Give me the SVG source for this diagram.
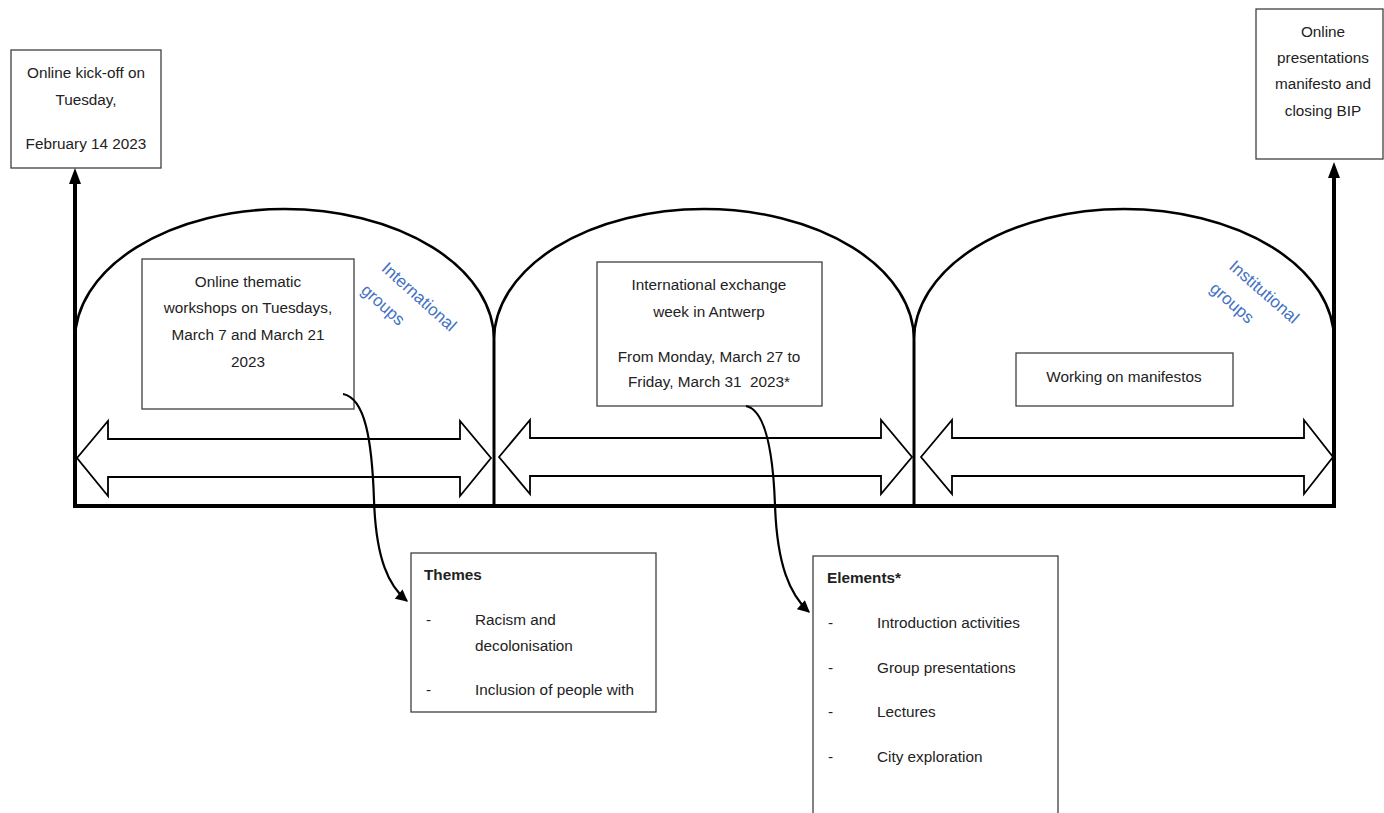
<svg xmlns="http://www.w3.org/2000/svg" width="1384" height="813" viewBox="0 0 1384 813">
<style>
.box{fill:#fff;stroke:#404040;stroke-width:1.3}
.t{font-family:"Liberation Sans",Arial,sans-serif;font-size:15.3px;fill:#222}
.c{text-anchor:middle}
.b{font-weight:bold}
.blue{font-family:"Liberation Sans",Arial,sans-serif;font-size:17px;fill:#4472C4;text-anchor:middle;dominant-baseline:central}
.arch{fill:none;stroke:#000;stroke-width:2.5}
.post{stroke:#000;stroke-width:3;fill:none}
.thick{stroke:#000;stroke-width:4;fill:none}
.blk{fill:#fff;stroke:#000;stroke-width:1.8;stroke-linejoin:miter}
.curve{fill:none;stroke:#000;stroke-width:2.2}
</style>
<defs>
<marker id="ah" viewBox="0 0 10 10" refX="9" refY="5" markerWidth="6" markerHeight="5.5" orient="auto" markerUnits="strokeWidth">
<path d="M0,0 L10,5 L0,10 z" fill="#000"/>
</marker>
</defs>
<rect width="1384" height="813" fill="#fff"/>

<g id="structure">
<path class="arch" d="M75,340 A209.5,131 0 0 1 494,340"/>
<path class="arch" d="M494,340 A210,131 0 0 1 914,340"/>
<path class="arch" d="M914,340 A210,131 0 0 1 1334,340"/>
<line class="post" x1="494" y1="340" x2="494" y2="506"/>
<line class="post" x1="914" y1="340" x2="914" y2="506"/>
<line class="thick" x1="73" y1="506" x2="1336" y2="506"/>
</g>

<g id="arrow1"><polygon class="blk" points="77,458 108,421 108,439 460,439 460,421 491,458 460,496 460,477 108,477 108,496"/></g>
<g id="arrow2"><polygon class="blk" points="499,457 530,420 530,438 881,438 881,420 912,457 881,494 881,476 530,476 530,494"/></g>
<g id="arrow3"><polygon class="blk" points="921,457 952,420 952,438 1304,438 1304,420 1333,457 1304,494 1304,476 952,476 952,494"/></g>

<g id="kickoff">
<rect class="box" x="11" y="50" width="150" height="118"/>
<text class="t c" x="86" y="78">Online kick-off on</text>
<text class="t c" x="86" y="105">Tuesday,</text>
<text class="t c" x="86" y="149">February 14 2023</text>
</g>

<g id="closing">
<rect class="box" x="1256" y="9" width="127" height="150"/>
<text class="t c" x="1323" y="37">Online</text>
<text class="t c" x="1323" y="63">presentations</text>
<text class="t c" x="1323" y="89">manifesto and</text>
<text class="t c" x="1323" y="116">closing BIP</text>
</g>

<g id="workshops">
<rect class="box" x="142" y="259" width="212" height="150"/>
<text class="t c" x="248" y="287">Online thematic</text>
<text class="t c" x="248" y="313">workshops on Tuesdays,</text>
<text class="t c" x="248" y="340">March 7 and March 21</text>
<text class="t c" x="248" y="367">2023</text>
</g>

<g id="exchange">
<rect class="box" x="597" y="262" width="225" height="144"/>
<text class="t c" x="709" y="290">International exchange</text>
<text class="t c" x="709" y="317">week in Antwerp</text>
<text class="t c" x="709" y="362">From Monday, March 27 to</text>
<text class="t c" x="709" y="387">Friday, March 31&#160; 2023*</text>
</g>

<g id="manifestos">
<rect class="box" x="1016" y="353" width="217" height="53"/>
<text class="t c" x="1124" y="382">Working on manifestos</text>
</g>

<g id="intl-label">
<text class="blue" transform="translate(419,297) rotate(42)">International</text>
<text class="blue" transform="translate(383,305) rotate(42)">groups</text>
</g>
<g id="inst-label">
<text class="blue" transform="translate(1264,292) rotate(41)">Institutional</text>
<text class="blue" transform="translate(1232,303) rotate(41)">groups</text>
</g>

<g id="themes">
<rect class="box" x="411" y="553" width="245" height="159"/>
<text class="t b" x="424" y="580">Themes</text>
<text class="t" x="426" y="625">-</text>
<text class="t" x="475" y="625">Racism and</text>
<text class="t" x="475" y="651">decolonisation</text>
<text class="t" x="426" y="695">-</text>
<text class="t" x="475" y="695">Inclusion of people with</text>
</g>

<g id="elements">
<rect class="box" x="813" y="556" width="245" height="270"/>
<text class="t b" x="827" y="583">Elements*</text>
<text class="t" x="828" y="628">-</text>
<text class="t" x="877" y="628">Introduction activities</text>
<text class="t" x="828" y="673">-</text>
<text class="t" x="877" y="673">Group presentations</text>
<text class="t" x="828" y="717">-</text>
<text class="t" x="877" y="717">Lectures</text>
<text class="t" x="828" y="762">-</text>
<text class="t" x="877" y="762">City exploration</text>
</g>

<g id="connectors">
<line class="thick" x1="75" y1="506" x2="75" y2="182"/>
<polygon points="75,168 69,184 81,184" fill="#000"/>
<line class="thick" x1="1334" y1="506" x2="1334" y2="176"/>
<polygon points="1334,162 1328,178 1340,178" fill="#000"/>
<path class="curve" d="M343,394 C365,398 372,440 374,500 C376,560 389,586 407,601" marker-end="url(#ah)"/>
<path class="curve" d="M746,406 C765,410 773,450 775,505 C777,565 790,595 809,612" marker-end="url(#ah)"/>
</g>
</svg>
